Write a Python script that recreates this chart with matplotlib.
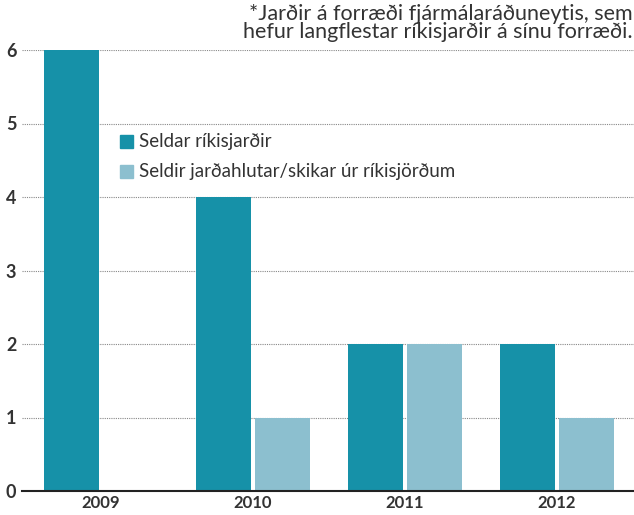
import numpy as np
import matplotlib.pyplot as plt
from matplotlib.patches import Rectangle

plt.rcParams["font.family"] = ["Lato", "DejaVu Sans"]

years = ["2009", "2010", "2011", "2012"]
seldar = [6, 4, 2, 2]
seldir_hlutar = [0, 1, 2, 1]
y_ticks = [0, 1, 2, 3, 4, 5, 6]

dark = "#1691a8"
light = "#8cbfcf"
txt = "#333333"

fig = plt.figure(figsize=(6.34, 5.15), dpi=100)
ax = fig.add_axes([22 / 634, 1 - 491 / 515, 1 - 22 / 634, (491 - 50) / 515])

x = np.arange(len(years))
w = 0.362
off = 0.197
ax.bar(x - off, seldar, w, color=dark, zorder=3)
ax.bar(x + off, seldir_hlutar, w, color=light, zorder=3)

ax.set_xlim(-0.52, 3.507)
ax.set_ylim(0, 6)
ax.set_yticks(y_ticks)
ax.set_xticks(x)
ax.set_xticklabels(years)
ax.grid(axis="y", linestyle=(0, (1, 1)), color="#888888", linewidth=0.8, zorder=0)
ax.tick_params(length=0, labelsize=13, colors=txt, pad=4)
for lab in ax.get_xticklabels() + ax.get_yticklabels():
    lab.set_fontweight("bold")
ax.tick_params(axis="x", labelsize=12, pad=3)
for s in ["top", "right", "left"]:
    ax.spines[s].set_visible(False)
ax.spines["bottom"].set_color("#222222")
ax.spines["bottom"].set_linewidth(1.5)
ax.spines["bottom"].set_zorder(4)

# legend
for i, (lbl, c) in enumerate([("Seldar ríkisjarðir", dark),
                               ("Seldir jarðahlutar/skikar úr ríkisjörðum", light)]):
    yy = 1 - (142 + i * 30) / 515
    fig.patches.append(Rectangle((120 / 634, yy - 6 / 515), 13 / 634, 13 / 515,
                                 transform=fig.transFigure, color=c, zorder=5))
    fig.text(139 / 634, yy, lbl, fontsize=13.5, color=txt, va="center", ha="left")

fig.text(633 / 634, 1 - 4 / 515,
         "*Jarðir á forræði fjármálaráðuneytis, sem\nhefur langflestar ríkisjarðir á sínu forræði.",
         fontsize=15.5, color=txt, ha="right", va="top", linespacing=0.85)

fig.savefig("out.png", dpi=100)
